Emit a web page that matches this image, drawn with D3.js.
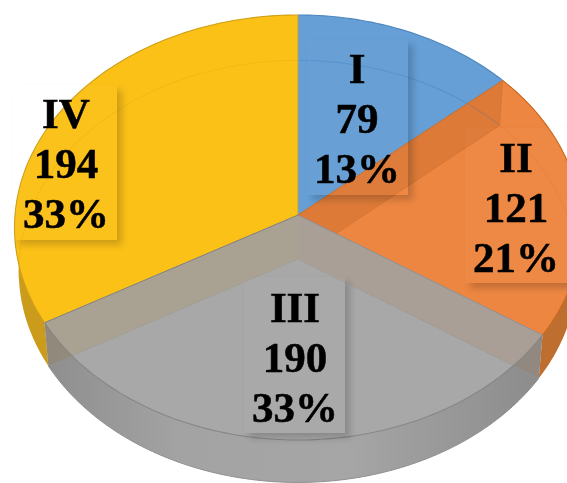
<!DOCTYPE html>
<html><head><meta charset="utf-8">
<script src="https://cdn.jsdelivr.net/npm/d3@7/dist/d3.min.js"></script>
<style>html,body{margin:0;padding:0;background:#fff;overflow:hidden}svg{display:block}</style>
</head><body><svg id="c" width="567" height="483"></svg>
<script>
const categories = ["I", "II", "III", "IV"];
const values = [79, 121, 190, 194];
const percentLabels = ["13%", "21%", "33%", "33%"];

const faceColors = {I:"#659FD6", II:"#ED8641", III:"#A8A8A8", IV:"#FCC118"};
const rimColors  = {I:"#4D86BE", II:"#C9691F", III:"#858585", IV:"#CFA01A"};
const wallColors = {I:"#4D7FB0", II:"#BE6E2E", III:"#A2A2A2", IV:"#CB9C1E"};
const labelLayout = {
  I:  {cx:357, first:83,  box:[307,40,101,155]},
  II: {cx:516, first:172, box:[465,128,105,155]},
  III:{cx:295, first:322, box:[244,277,101,156]},
  IV: {cx:66,  first:128, box:[14,85,103,155]}
};

// Perspective projection of the pie disc
const CX = 298, K = 0.0588, A = 283, B = 211.8;
const topY = 215, bottomY = 259, bottomScale = 0.985;
const project = (t, bottom) => {
  const u = Math.sin(t), v = Math.cos(t), d = 1 + K * v;
  return bottom
    ? [CX + bottomScale * A * u / d, bottomY - (B - 1.5) * v / d]
    : [CX + A * u / d, topY - B * v / d];
};
const arcPts = (a0, a1, bottom) => {
  const n = Math.max(2, Math.ceil(Math.abs(a1 - a0) / 0.02));
  return d3.range(n + 1).map(i => project(a0 + (a1 - a0) * i / n, bottom));
};
const line = d3.line();
const closed = pts => line(pts) + "Z";

const slices = d3.pie().sort(null).value(d => d.value).startAngle(0).endAngle(2 * Math.PI)(
  categories.map((c, i) => ({c, value: values[i], pct: percentLabels[i]})));
const byName = Object.fromEntries(slices.map(s => [s.data.c, s]));
const wallPts = s => arcPts(s.startAngle, s.endAngle, false).concat(arcPts(s.endAngle, s.startAngle, true));

const svg = d3.select("#c");
const defs = svg.append("defs");
const soft = defs.append("filter").attr("id","soft").attr("x","-5%").attr("y","-5%").attr("width","110%").attr("height","110%");
soft.append("feGaussianBlur").attr("stdDeviation",0.6);

const sh = defs.append("filter").attr("id","boxShadow").attr("x","-20%").attr("y","-20%").attr("width","140%").attr("height","140%");
sh.append("feOffset").attr("in","SourceAlpha").attr("dx",5).attr("dy",5).attr("result","o");
sh.append("feGaussianBlur").attr("in","o").attr("stdDeviation",3.5).attr("result","b");
sh.append("feComposite").attr("in","b").attr("in2","SourceAlpha").attr("operator","out");

const grad = (id, stops) => {
  const g = defs.append("linearGradient").attr("id",id).attr("gradientUnits","userSpaceOnUse")
    .attr("x1",15).attr("x2",567).attr("y1",0).attr("y2",0);
  stops.forEach(([o,c]) => g.append("stop").attr("offset",o).attr("stop-color",c));
};
grad("wallIII", [[0.05,"#8e8e8e"],[0.3,"#a3a3a3"],[0.6,"#a6a6a6"],[0.95,"#8c8c8c"]]);
defs.append("clipPath").attr("id","wallClip").append("path").attr("d", closed(wallPts(byName.III)));

const root = svg.append("g").attr("filter","url(#soft)");

// outer walls
["IV","II","III"].forEach(name => {
  root.append("path").attr("d", closed(wallPts(byName[name])))
    .attr("fill", name === "III" ? "url(#wallIII)" : wallColors[name]);
});

const face = name => {
  const s = byName[name];
  const pts = [[CX, topY]].concat(arcPts(s.startAngle, s.endAngle, false));
  root.append("path").attr("d", closed(pts)).attr("fill", faceColors[name]);
};
const rim = name => {
  const s = byName[name];
  root.append("path").attr("d", line(arcPts(s.startAngle, s.endAngle, false)))
    .attr("fill","none").attr("stroke",rimColors[name]).attr("stroke-width",1.1);
};
const radial = (angle, color) => {
  root.append("path").attr("d", line([[CX, topY], project(angle, false)]))
    .attr("fill","none").attr("stroke",color).attr("stroke-width",1);
};
const bandPts = angle => [[CX, topY], project(angle,false), project(angle,true), [CX, bottomY]];
const band = (angle, fill, op) => {
  root.append("path").attr("d", closed(bandPts(angle))).attr("fill",fill).attr("opacity",op);
};

// faces behind the gray slice
face("I"); face("IV"); face("II");

// back rim of the floor, seen through the top
const faint = (a0, a1, color, w) => root.append("path").attr("d", line(arcPts(a0, a1, true)))
  .attr("fill","none").attr("stroke",color).attr("stroke-width",w||1.2);
const sI = byName.I, sII = byName.II, sIV = byName.IV;
faint(sI.startAngle, sI.endAngle, "rgba(58,120,185,0.3)");
faint(sII.startAngle, sII.startAngle + 0.95, "rgba(214,118,50,0.2)");
faint(sIV.startAngle + 0.42, sIV.endAngle, "rgba(228,168,14,0.3)");

band(sI.endAngle, "#B85F26", 0.3);
root.append("path").attr("d", line([[CX,bottomY], project(sI.endAngle,true), project(sI.endAngle,false)]))
  .attr("fill","none").attr("stroke","rgba(190,100,40,0.3)").attr("stroke-width",1);

face("III");
// walls of the gray slice at its two radial edges
band(sII.endAngle, "#A99D93", 0.85);
band(sIV.startAngle, "#A9A18E", 0.85);

// darker corners where those walls overlap the side
[sII.endAngle, sIV.startAngle].forEach(a => {
  root.append("path").attr("d", closed(bandPts(a))).attr("clip-path","url(#wallClip)")
    .attr("fill","#000").attr("opacity",0.12);
  root.append("path").attr("d", line([[CX,bottomY], project(a,true)]))
    .attr("fill","none").attr("stroke","rgba(150,150,150,0.4)").attr("stroke-width",1);
});
root.append("path").attr("d", line([[CX,topY],[CX,bottomY]]))
  .attr("fill","none").attr("stroke","rgba(170,170,170,0.3)").attr("stroke-width",1);

// rims and radial edges
rim("I"); rim("II"); rim("IV"); rim("III");
root.append("path").attr("d", line(arcPts(byName.III.startAngle, byName.III.endAngle, true)))
  .attr("fill","none").attr("stroke","#8f8f8f").attr("stroke-width",1);
radial(0, "#B7A24A");
radial(sI.endAngle, "#C9691F");
radial(sII.endAngle, "#8F8F8F");
radial(sIV.startAngle, "#7F7F7F");

// data labels
slices.forEach(s => {
  const l = labelLayout[s.data.c], [x,y,w,h] = l.box;
  root.append("rect").attr("x",x).attr("y",y).attr("width",w).attr("height",h)
    .attr("fill","#000").attr("filter","url(#boxShadow)").attr("opacity",0.18);
  root.append("rect").attr("x",x).attr("y",y).attr("width",w).attr("height",h)
    .attr("fill","rgba(255,255,255,0.02)");
  const t = root.append("text").attr("text-anchor","middle")
    .attr("font-family","'Liberation Serif',serif").attr("font-weight",700)
    .attr("font-size",43).attr("fill","#000").attr("stroke","#000").attr("stroke-width",0.5);
  [s.data.c, String(s.data.value), s.data.pct].forEach((str,i) => {
    t.append("tspan").attr("x",l.cx).attr("y",l.first + i * 50).text(str);
  });
});
</script></body></html>
